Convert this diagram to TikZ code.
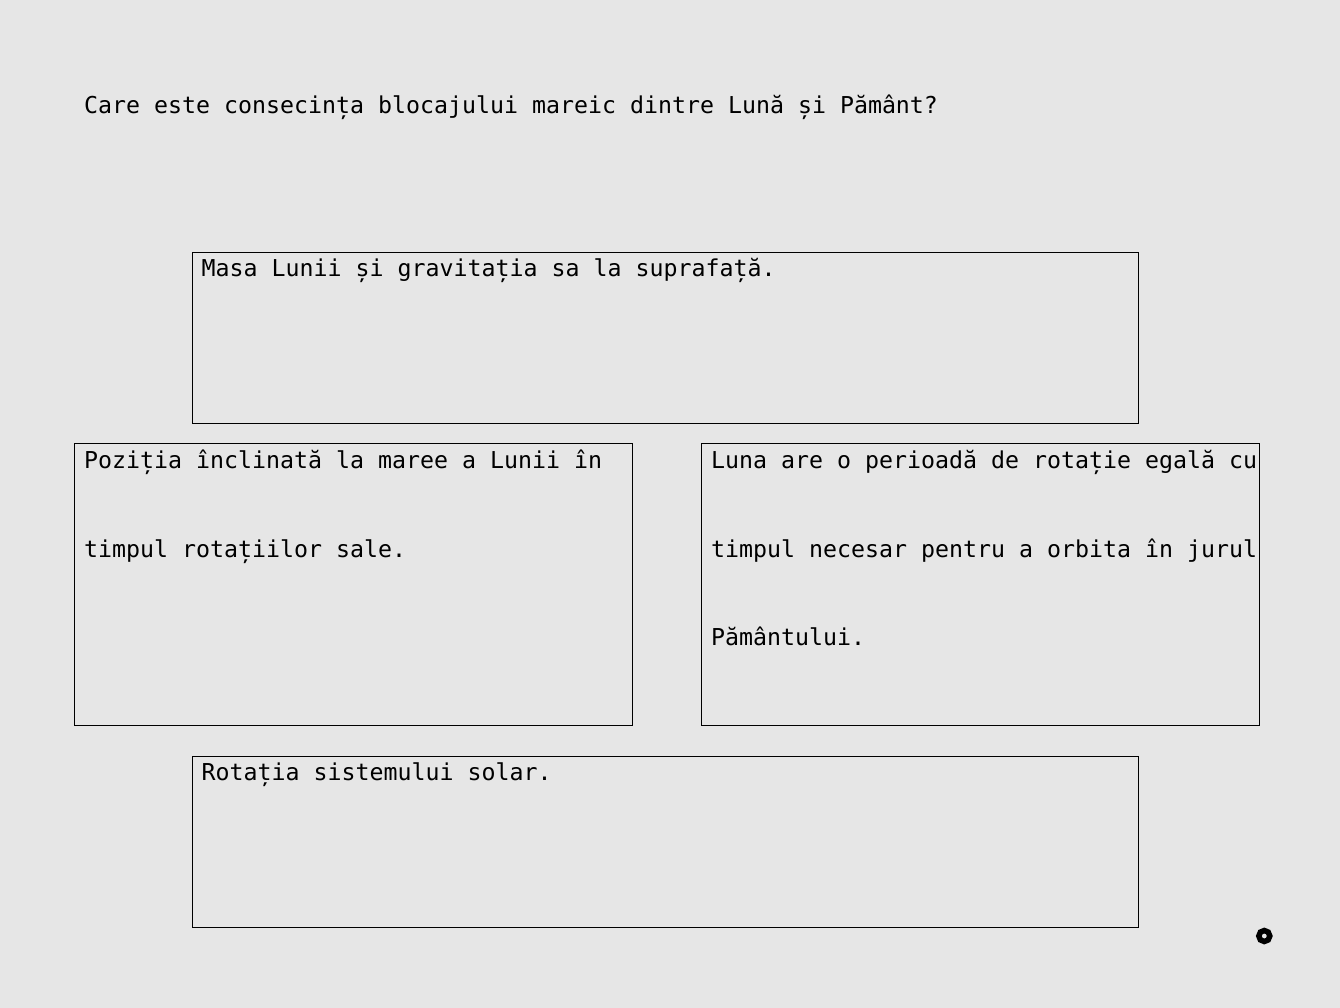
\documentclass[tikz,border=0pt]{standalone}
\usepackage{fontspec}
\setmonofont{DejaVu Sans Mono}
\definecolor{bg}{HTML}{E6E6E6}

\begin{document}
\begin{tikzpicture}[x=1pt, y=-1pt,
    txt/.style={anchor=base west, inner sep=0pt, align=left,
      font=\ttfamily\fontsize{23.25}{88.7}\selectfont},
    box/.style={draw=black, line width=1pt}]
    \fill[bg] (0, 0) rectangle (1340, 1008);
    \useasboundingbox (0, 0) rectangle (1340, 1008);
    % base of a multi-line node is its last line
    \node[txt] (question) at (84, 113.5) {Care este consecința blocajului mareic dintre Lună și Pământ?};
    \draw[box] (192.5, 252.5) rectangle (1138.5, 423.5);
    \node[txt] (mass) at (201.5, 276.5) {Masa Lunii și gravitația sa la suprafață.};
    \draw[box] (74.5, 443.5) rectangle (632.5, 725.5);
    \node[txt] (tilt) at (84, 557.2) {Poziția înclinată la maree a Lunii în\\timpul rotațiilor sale.};
    \draw[box] (701.5, 443.5) rectangle (1259.5, 725.5);
    \node[txt] (period) at (711, 645.9) {Luna are o perioadă de rotație egală cu\\timpul necesar pentru a orbita în jurul\\Pământului.};
    \draw[box] (192.5, 756.5) rectangle (1138.5, 927.5);
    \node[txt] (solar) at (201.5, 780.5) {Rotația sistemului solar.};
    \draw[line width=5.5pt] (1264.3, 936) circle (5.5);
  \end{tikzpicture}
\end{document}
